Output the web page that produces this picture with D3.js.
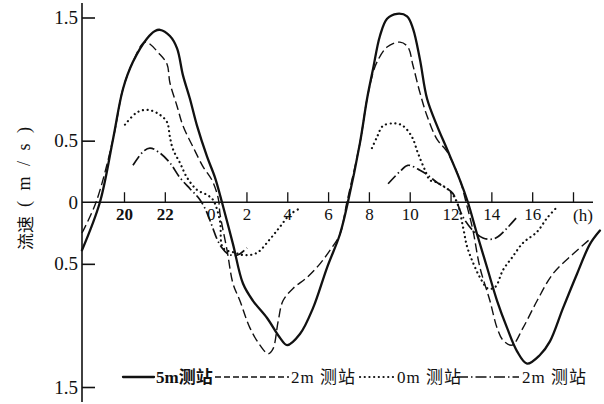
<!DOCTYPE html>
<html><head><meta charset="utf-8">
<script src="https://cdn.jsdelivr.net/npm/d3@7"></script>
<style>
html,body{margin:0;padding:0;background:#fff;}
svg{display:block;}
</style></head>
<body>
<svg id="c" width="604" height="404"></svg>
<script>
// hours as continuous time (24 = 0h next day)
const s5mT = [17.94,18.82,19.46,19.95,20.44,21.13,21.52,21.76,22.25,22.6,22.89,23.23,23.58,24.07,24.46,24.8,25.34,25.83,26.32,27.01,27.64,27.99,28.62,29.26,29.95,30.58,30.97,31.56,31.91,32.2,32.54,32.89,33.38,33.87,34.16,34.5,34.85,35.34,35.83,36.46,36.85,37.3,37.79,38.28,38.77,39.26,39.75,40.38,40.87,41.51,42.2,42.83,43.32];
const s5mV = [-0.39,0,0.51,0.92,1.14,1.33,1.39,1.40,1.35,1.25,1.03,0.84,0.62,0.37,0.2,0,-0.34,-0.66,-0.8,-0.94,-1.1,-1.16,-1.07,-0.86,-0.53,-0.26,0,0.48,0.84,1.08,1.35,1.49,1.53,1.51,1.41,1.16,0.84,0.62,0.43,0.18,0,-0.26,-0.53,-0.8,-1.02,-1.21,-1.31,-1.24,-1.13,-0.86,-0.58,-0.34,-0.23];

const s2mT = [17.94,18.63,19.46,19.95,20.44,21.03,21.76,22.11,22.25,22.6,22.89,23.38,23.87,24.31,24.56,24.65,24.7,25.05,25.34,25.68,26.17,26.66,27.06,27.3,27.55,27.79,28.28,28.97,29.6,30.09,30.58,30.92,31.56,31.91,32.2,32.4,32.89,33.52,33.91,34.16,34.5,34.85,35.34,35.83,36.46,36.76,37.1,37.44,37.93,38.28,38.57,39.01,39.55,40.24,41.02,42.0,42.83];
const s2mV = [-0.25,0,0.51,0.92,1.14,1.3,1.2,1.12,0.97,0.78,0.62,0.45,0.29,0.18,0.07,0,-0.09,-0.39,-0.66,-0.8,-1.02,-1.16,-1.23,-1.19,-0.97,-0.8,-0.7,-0.61,-0.5,-0.39,-0.26,0,0.48,0.84,1.05,1.14,1.26,1.3,1.26,1.11,0.89,0.7,0.51,0.41,0.18,0,-0.23,-0.53,-0.8,-1.02,-1.12,-1.16,-1.02,-0.8,-0.58,-0.42,-0.3];

const s0mAT = [20.05,20.64,21.18,21.76,22.11,22.25,22.4,22.74,23.09,23.58,24.07,24.36,24.7,24.85,25.44,25.93,26.52,27.15,27.64,28.13,28.62];
const s0mAV = [0.63,0.73,0.75,0.71,0.65,0.53,0.43,0.32,0.2,0.1,0.06,0.02,-0.15,-0.37,-0.41,-0.43,-0.41,-0.3,-0.2,-0.1,-0.05];
const s0mBT = [32.15,32.4,32.69,33.28,33.67,34.11,34.4,34.75,34.99,35.34,35.97,36.36,36.61,36.81,37.1,37.44,37.83,38.18,38.57,39.01,39.55,40.24,40.72,41.21];
const s0mBV = [0.44,0.53,0.62,0.64,0.62,0.53,0.4,0.26,0.18,0.16,0.09,-0.02,-0.2,-0.36,-0.49,-0.61,-0.7,-0.69,-0.55,-0.45,-0.33,-0.24,-0.13,-0.04];

const s2bAT = [20.44,20.93,21.27,21.76,22.25,22.74,23.23,23.63,23.97,24.31,24.56,24.8,25.1,25.54,26.03];
const s2bAV = [0.3,0.41,0.44,0.4,0.32,0.2,0.11,0.04,-0.05,-0.19,-0.3,-0.37,-0.42,-0.43,-0.37];
const s2bBT = [32.94,33.52,33.91,34.5,34.89,35.34,35.83,36.12,36.61,37.1,37.59,38.03,38.32,38.77,39.26];
const s2bBV = [0.15,0.25,0.3,0.26,0.22,0.16,0.11,0.07,-0.12,-0.23,-0.29,-0.3,-0.28,-0.21,-0.12];

const xTicks = [20,22,24,26,28,30,32,34,36,38,40,42];
const xTickLabels = ["20","22","0","2","4","6","8","10","12","14","16",""];
const yTicks = [1.5,0.5,0,-0.5,-1.5];
const yTickLabels = ["1.5","0.5","0","0.5","1.5"];
const legendLabels = ["5m测站","2m 测站","0m 测站","2m 测站"];

const svg = d3.select("#c");
const x = d3.scaleLinear().domain([20,42]).range([124,573]);
const y = d3.scaleLinear().domain([-1.5,1.5]).range([387,17.5]);
const ink = "#111";
const serif = "'Liberation Serif','DejaVu Serif',serif";
const cjk = "'Liberation Serif','Noto Sans CJK SC',serif";

// axes lines
svg.append("line").attr("x1",82).attr("x2",82).attr("y1",3).attr("y2",402)
  .attr("stroke",ink).attr("stroke-width",1.6);
svg.append("line").attr("x1",82).attr("x2",593).attr("y1",y(0)).attr("y2",y(0))
  .attr("stroke",ink).attr("stroke-width",1.3);

// x axis
const gx = svg.append("g").attr("transform",`translate(0,${y(0)})`)
  .call(d3.axisBottom(x).tickValues(xTicks).tickSizeInner(-10).tickSizeOuter(0).tickPadding(6)
    .tickFormat((d,i)=>xTickLabels[i]));
gx.select(".domain").remove();
gx.selectAll(".tick line").attr("stroke",ink).attr("stroke-width",1.3)
  .filter(d=>d===24).remove();
gx.selectAll(".tick text").attr("fill",ink).style("font-family",serif).style("font-size","17px")
  .style("font-weight",d=>(d===20||d===22)?"bold":"normal")
  .attr("dx",d=>d===24?5:0);
svg.append("text").attr("x",583).attr("y",221).attr("text-anchor","middle")
  .attr("fill",ink).style("font-family",serif).style("font-size","17px").text("(h)");

// y axis
const gy = svg.append("g").attr("transform","translate(82,0)")
  .call(d3.axisLeft(y).tickValues(yTicks).tickSizeInner(-13).tickSizeOuter(0).tickPadding(4)
    .tickFormat((d,i)=>yTickLabels[i]));
gy.select(".domain").remove();
gy.selectAll(".tick line").attr("stroke",ink).attr("stroke-width",1.6).filter(d=>d===0).remove();
gy.selectAll(".tick text").attr("fill",ink).style("font-family",serif).style("font-size","19px");

// y label (two parts, rotated)
svg.append("text").attr("transform","translate(24,250) rotate(-90)")
  .attr("dominant-baseline","central").attr("fill",ink)
  .style("font-family","'Noto Sans CJK SC',sans-serif").style("font-size","17px").text("流速");
svg.append("text").attr("transform","translate(24,207) rotate(-90)")
  .attr("dominant-baseline","central").attr("fill",ink)
  .attr("textLength",80).attr("lengthAdjust","spacing")
  .style("font-family",serif).style("font-size","18px").text("(m/s)");

// series
const line = d3.line().x(d=>x(d[0])).y(d=>y(d[1])).curve(d3.curveCatmullRom.alpha(0.5));
const zip = (a,b)=>a.map((t,i)=>[t,b[i]]);
const styles = {
  solid:{w:2.3,dash:null,cap:"round"},
  dashed:{w:1.4,dash:"9,4",cap:"butt"},
  dotted:{w:2.2,dash:"0.1,4.6",cap:"round"},
  dashdot:{w:1.7,dash:"11,3,1.5,3",cap:"butt"}
};
const series = [
  [zip(s2mT,s2mV),"dashed"],
  [zip(s0mAT,s0mAV),"dotted"],
  [zip(s0mBT,s0mBV),"dotted"],
  [zip(s2bAT,s2bAV),"dashdot"],
  [zip(s2bBT,s2bBV),"dashdot"],
  [zip(s5mT,s5mV),"solid"]
];
series.forEach(([data,st])=>{
  const s = styles[st];
  svg.append("path").datum(data).attr("d",line).attr("fill","none")
    .attr("stroke",ink).attr("stroke-width",s.w).attr("stroke-linecap",s.cap)
    .attr("stroke-linejoin","round").attr("stroke-dasharray",s.dash);
});

// legend
const legY = 377;
const legItems = [
  {st:"solid",x1:123,x2:154,tx:156,bold:true},
  {st:"dashed",x1:215,x2:289,tx:291,bold:false},
  {st:"dotted",x1:360,x2:394,tx:397,bold:false},
  {st:"dashdot",x1:457,x2:519,tx:522,bold:false}
];
legItems.forEach((it,i)=>{
  const s = styles[it.st];
  svg.append("line").attr("x1",it.x1).attr("x2",it.x2).attr("y1",legY).attr("y2",legY)
    .attr("stroke",ink).attr("stroke-width",s.w).attr("stroke-linecap",s.cap)
    .attr("stroke-dasharray",it.st==="dashed"?"6,3":s.dash);
  svg.append("text").attr("x",it.tx).attr("y",legY+6).attr("fill",ink)
    .style("font-family",cjk).style("font-size","17px")
    .style("letter-spacing",it.bold?"0px":"1px")
    .style("font-weight",it.bold?"bold":"normal").text(legendLabels[i]);
});
</script>
</body></html>
